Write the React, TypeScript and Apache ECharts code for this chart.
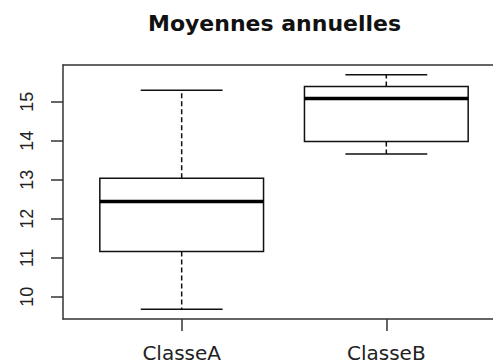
import React, { useEffect, useRef } from "react";
import * as echarts from "echarts";

// ---- data ----
const classes = ["ClasseA", "ClasseB"];
const mins = [9.68, 13.66];
const q1s = [11.16, 13.98];
const medians = [12.44, 15.08];
const q3s = [13.04, 15.39];
const maxs = [15.29, 15.69];
const yTicks = [10, 11, 12, 13, 14, 15];
const xTicks = [1, 2];

const BOX_WIDTH = 0.8;
const CAP_WIDTH = 0.4;

export default function App() {
  const ref = useRef<HTMLDivElement>(null);

  useEffect(() => {
    if (!ref.current) return;
    const chart = echarts.init(ref.current, null, { renderer: "svg" });
    const data = classes.map((_, i) => [i + 1, mins[i], q1s[i], medians[i], q3s[i], maxs[i]]);

    const renderItem = (params: any, api: any) => {
      const x = api.value(0);
      const lo = api.value(1);
      const q1 = api.value(2);
      const med = api.value(3);
      const q3 = api.value(4);
      const hi = api.value(5);
      const halfBox = api.size([BOX_WIDTH, 0])[0] / 2;
      const halfCap = api.size([CAP_WIDTH, 0])[0] / 2;
      const cx = api.coord([x, lo])[0];
      const yLo = api.coord([x, lo])[1];
      const yQ1 = api.coord([x, q1])[1];
      const yMed = api.coord([x, med])[1];
      const yQ3 = api.coord([x, q3])[1];
      const yHi = api.coord([x, hi])[1];
      const solid = { stroke: "#111", lineWidth: 1.5, fill: "none" };
      const dashed = { stroke: "#111", lineWidth: 1.5, lineDash: [5, 3], fill: "none" };
      return {
        type: "group",
        children: [
          { type: "line", shape: { x1: cx, y1: yQ3, x2: cx, y2: yHi }, style: dashed },
          { type: "line", shape: { x1: cx, y1: yQ1, x2: cx, y2: yLo }, style: dashed },
          { type: "line", shape: { x1: cx - halfCap, y1: yHi, x2: cx + halfCap, y2: yHi }, style: solid },
          { type: "line", shape: { x1: cx - halfCap, y1: yLo, x2: cx + halfCap, y2: yLo }, style: solid },
          {
            type: "rect",
            shape: { x: cx - halfBox, y: yQ3, width: 2 * halfBox, height: yQ1 - yQ3 },
            style: { fill: "#fff", stroke: "#111", lineWidth: 1.5 },
          },
          {
            type: "line",
            shape: { x1: cx - halfBox, y1: yMed, x2: cx + halfBox, y2: yMed },
            style: { stroke: "#000", lineWidth: 3.5 },
          },
        ],
      };
    };

    const frameLine = { show: true, lineStyle: { color: "#333", width: 1.5 } };

    chart.setOption({
      animation: false,
      backgroundColor: "#ffffff",
      title: {
        text: "Moyennes annuelles",
        left: 143,
        top: 7,
        textStyle: { fontFamily: "DejaVu Sans", fontWeight: "bold", fontSize: 22, color: "#111" },
      },
      grid: {
        show: false,
        left: 63,
        top: 65,
        width: 442,
        height: 254,
        outerBoundsMode: "none",
      },
      xAxis: [
        {
          type: "value",
          position: "bottom",
          min: 0.42,
          max: 2.58,
          axisLine: frameLine,
          splitLine: { show: false },
          axisTick: { show: true, length: 12, customValues: xTicks, lineStyle: { color: "#333", width: 1.5 } },
          axisLabel: {
            customValues: xTicks,
            formatter: (v: number) => classes[Math.round(v) - 1] ?? "",
            fontFamily: "DejaVu Sans",
            fontSize: 20,
            color: "#222",
            margin: 24,
          },
        },
        {
          type: "value",
          position: "top",
          min: 0.42,
          max: 2.58,
          axisLine: frameLine,
          splitLine: { show: false },
          axisTick: { show: false },
          axisLabel: { show: false },
        },
      ],
      yAxis: {
        type: "value",
        position: "left",
        min: 9.43,
        max: 15.94,
        axisLine: frameLine,
        splitLine: { show: false },
        axisTick: { show: true, length: 12, customValues: yTicks, lineStyle: { color: "#333", width: 1.5 } },
        axisLabel: {
          customValues: yTicks,
          rotate: 90,
          fontFamily: "Liberation Sans",
          fontSize: 18,
          color: "#222",
          margin: 27,
        },
      },
      graphic: [
        {
          type: "rect",
          z: 100,
          shape: { x: 485, y: 66.5, width: 12, height: 251 },
          style: { fill: "#ffffff" },
          silent: true,
        },
      ],
      series: [
        {
          type: "custom",
          renderItem,
          data,
          xAxisIndex: 0,
          yAxisIndex: 0,
          clip: false,
        },
      ],
    });
    return () => chart.dispose();
  }, []);

  return (
    <div
      ref={ref}
      style={{ position: "fixed", left: 0, top: 0, width: 493, height: 364, background: "#fff" }}
    />
  );
}
